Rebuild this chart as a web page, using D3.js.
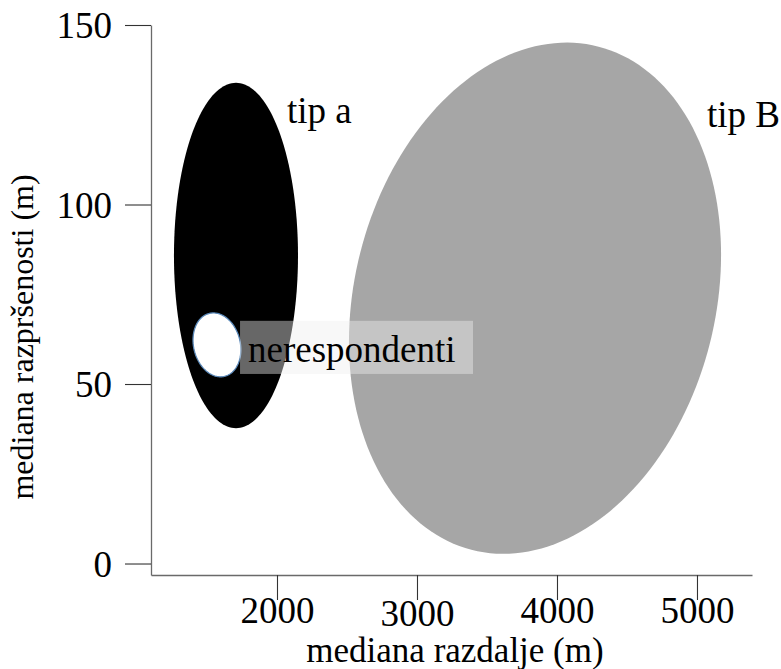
<!DOCTYPE html>
<html>
<head>
<meta charset="utf-8">
<script src="https://cdn.jsdelivr.net/npm/d3@7/dist/d3.min.js"></script>
<style>
  html, body { margin: 0; padding: 0; background: #ffffff; }
  svg { display: block; }
  text { font-family: "Liberation Serif", "Times New Roman", serif; fill: #000; }
</style>
</head>
<body>
<svg id="chart" width="781" height="669"></svg>
<script>
// ---- data ----
const xTicks = [2000, 3000, 4000, 5000];
const yTicks = [0, 50, 100, 150];
const xTitle = "mediana razdalje (m)";
const yTitle = "mediana razpršenosti (m)";

// ellipses: centre (x, y), half-extent in x and y (data units), correlation
const groupNames   = ["tip B", "tip a", "nerespondenti"];
const groupCx      = [3843, 1707, 1571];
const groupCy      = [73.9, 85.8, 60.9];
const groupRx      = [1329, 443, 171];
const groupRy      = [71.2, 48.1, 8.9];
const groupRho     = [0.17, 0.0, -0.15];
const groupFill    = ["#a6a6a6", "#000000", "#ffffff"];

// label anchors (data units)
const labelText = ["tip a", "tip B", "nerespondenti"];
const labelX    = [2071, 5071, 1793];
const labelY    = [122.8, 121.7, 56.2];
// translucent box behind "nerespondenti" (data units)
const boxX = [1736, 3400];
const boxY = [52.8, 67.6];

// ---- layout ----
const svg = d3.select("#chart");
const x = d3.scaleLinear().domain([1100, 5393]).range([151, 752]);
const y = d3.scaleLinear().domain([-3.2, 150]).range([575, 25]);

// ellipses
const N = 180;
const ts = d3.range(N).map(i => i / N * 2 * Math.PI);
const line = d3.line().curve(d3.curveLinearClosed);
const groups = groupNames.map((n, i) => ({
  name: n, cx: groupCx[i], cy: groupCy[i], rx: groupRx[i], ry: groupRy[i],
  rho: groupRho[i], fill: groupFill[i]
}));
svg.append("g").selectAll("path")
  .data(groups)
  .join("path")
  .attr("d", g => line(ts.map(t => [
      x(g.cx + g.rx * Math.cos(t)),
      y(g.cy + g.ry * (g.rho * Math.cos(t) + Math.sqrt(1 - g.rho * g.rho) * Math.sin(t)))
  ])))
  .attr("fill", g => g.fill)
  .attr("stroke", g => g.name === "nerespondenti" ? "#5a88b8" : "none")
  .attr("stroke-width", 1.3);

// translucent label box
svg.append("rect")
  .attr("x", x(boxX[0]))
  .attr("y", y(boxY[1]))
  .attr("width", x(boxX[1]) - x(boxX[0]))
  .attr("height", y(boxY[0]) - y(boxY[1]))
  .attr("fill", "rgb(239,239,239)")
  .attr("fill-opacity", 0.43);

// labels
svg.append("g").selectAll("text")
  .data(labelText.map((t, i) => ({t, x: labelX[i], y: labelY[i]})))
  .join("text")
  .attr("x", d => x(d.x))
  .attr("y", d => y(d.y))
  .attr("font-size", 37)
  .text(d => d.t);

// axes
const yAxis = d3.axisLeft(y).tickValues(yTicks).tickSize(26).tickSizeOuter(0).tickPadding(13);
const gy = svg.append("g").attr("transform", "translate(151,0)").call(yAxis);
gy.selectAll("text").attr("font-size", 37).attr("dy", "0.35em")
  .style("font-family", "'Liberation Serif','Times New Roman',serif").attr("fill", "#000");
gy.select(".domain").attr("stroke", "#6a6a6a").attr("stroke-width", 1.3);
gy.selectAll(".tick line").attr("stroke", "#333").attr("stroke-width", 1.1);

const xAxis = d3.axisBottom(x).tickValues(xTicks).tickFormat(d3.format("d")).tickSize(25).tickSizeOuter(0).tickPadding(-3);
const gx = svg.append("g").attr("transform", "translate(0,575)").call(xAxis);
gx.selectAll("text").attr("font-size", 37)
  .style("font-family", "'Liberation Serif','Times New Roman',serif").attr("fill", "#000");
gx.selectAll(".tick").filter(d => d === 3000).select("text").attr("y", 25);
gx.select(".domain").attr("stroke", "#6a6a6a").attr("stroke-width", 1.3);
gx.selectAll(".tick line").attr("stroke", "#333").attr("stroke-width", 1.1);

// titles
svg.append("text")
  .attr("x", 455).attr("y", 662)
  .attr("text-anchor", "middle")
  .attr("font-size", 35)
  .text(xTitle);

svg.append("text")
  .attr("transform", "translate(33,337) rotate(-90)")
  .attr("text-anchor", "middle")
  .attr("font-size", 32)
  .text(yTitle);
</script>
</body>
</html>
